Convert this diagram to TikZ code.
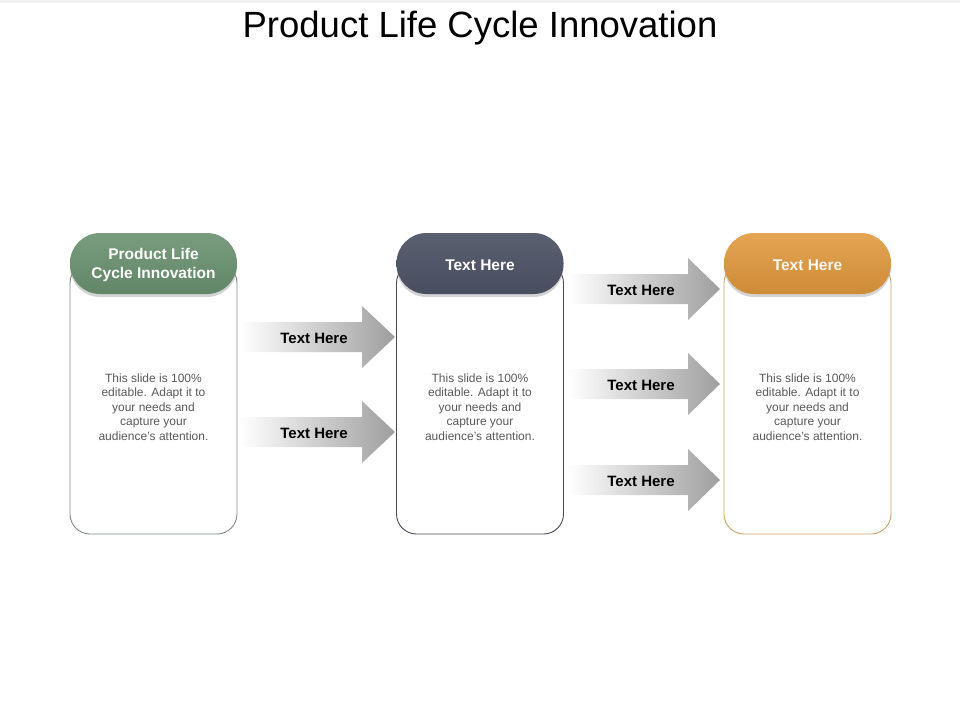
\documentclass[tikz,border=0pt]{standalone}
\usepackage{fontspec}
\setmainfont{Liberation Sans}
\usetikzlibrary{shadows}

\definecolor{pillgreen}{RGB}{106,145,112}
\definecolor{pillslate}{RGB}{76,82,100}
\definecolor{pillorange}{RGB}{224,152,60}
\definecolor{linegreen}{RGB}{122,138,126}
\definecolor{lineslate}{RGB}{70,74,88}
\definecolor{lineorange}{RGB}{206,160,100}
\definecolor{bodygray}{RGB}{89,89,89}

\tikzset{
	pill/.style={rounded corners=30pt, minimum width=167pt, minimum height=61pt, inner sep=0pt,
		drop shadow={shadow xshift=0pt, shadow yshift=-3pt, opacity=0.35}},
	pilltext/.style={align=center, text=white, font=\fontsize{15.5}{19}\selectfont\bfseries},
	frame/.style={draw, line width=0.9pt, rounded corners=20pt, minimum width=167pt, minimum height=271pt, inner sep=0pt},
	body/.style={align=center, text=bodygray, font=\fontsize{12}{14.5}\selectfont},
	arrowlabel/.style={font=\fontsize{15}{18}\selectfont\bfseries}
}

\begin{document}
\begin{tikzpicture}[x=1pt, y=-1pt]
		\useasboundingbox (0,0) rectangle (960,720);
		\fill[black!6] (0,0) rectangle (960,3);
		\node[anchor=base, font=\fontsize{36.5}{40}\selectfont] (title) at (480,37) {Product Life Cycle Innovation};

		% columns
		\node[frame, draw=linegreen] (frameA) at (153.5,398.5) {};
		\node[frame, draw=lineslate] (frameB) at (480,398.5) {};
		\node[frame, draw=lineorange] (frameC) at (807.5,398.5) {};
		\node[pill, top color=pillgreen!90!white, bottom color=pillgreen!92!black] (pillA) at (153.5,263.5) {};
		\node[pill, top color=pillslate!92!white, bottom color=pillslate!95!black] (pillB) at (480,263.5) {};
		\node[pill, top color=pillorange!88!white, bottom color=pillorange!92!black] (pillC) at (807.5,263.5) {};
		\node[pilltext] (headA) at (153.5,265) {Product Life\\Cycle Innovation};
		\node[pilltext] (headB) at (480,265) {Text Here};
		\node[pilltext, text=white!92!pillorange] (headC) at (807.5,265) {Text Here};
		\foreach \c/\x in {A/153.5, B/480, C/807.5} {
			\node[body] (body\c) at (\x,407) {This slide is 100\%\\editable. Adapt it to\\your needs and\\capture your\\audience’s attention.};
		}

		% arrows
		\foreach \n/\xs/\xh/\xt/\y in {1/240/362/395/337, 2/240/362/395/432, 3/568/688/720/289, 4/568/688/720/384, 5/568/688/720/480} {
			\shade[left color=white, right color=black!38]
				(\xs,\y-15) -- (\xh,\y-15) -- (\xh,\y-31) -- (\xt,\y) -- (\xh,\y+31) -- (\xh,\y+15) -- (\xs,\y+15) -- cycle;
			\node[arrowlabel] (label\n) at ({(\xs+\xh)/2+13},\y+1) {Text Here};
		}
	\end{tikzpicture}
\end{document}
